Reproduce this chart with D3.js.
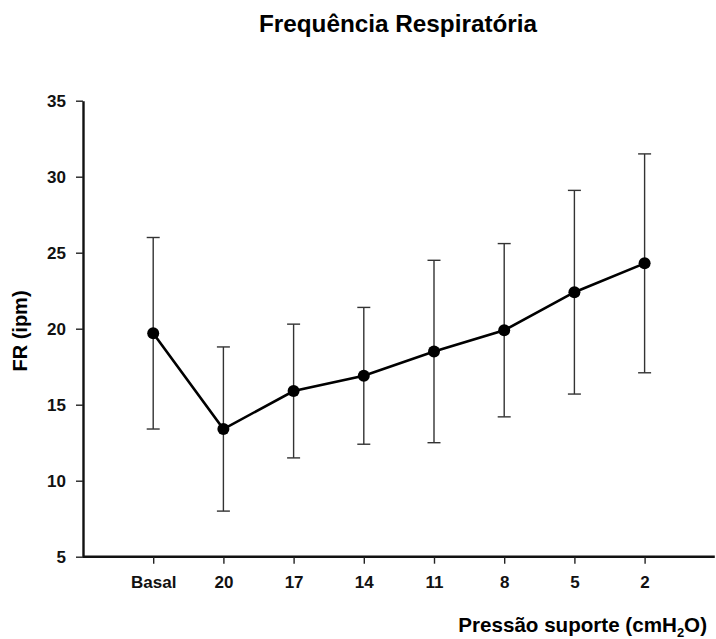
<!DOCTYPE html>
<html>
<head>
<meta charset="utf-8">
<script src="https://cdn.jsdelivr.net/npm/d3@7"></script>
<style>
  html, body { margin: 0; padding: 0; background: #fff; }
  svg { display: block; font-family: "Liberation Sans", Arial, sans-serif; }
</style>
</head>
<body>
<svg id="chart" width="716" height="639"></svg>
<script>
// Pressure-support levels (x categories)
const categories = ["Basal", "20", "17", "14", "11", "8", "5", "2"];
// Mean respiratory rate (breaths per minute)
const means = [19.7, 13.4, 15.9, 16.9, 18.5, 19.9, 22.4, 24.3];
// Standard deviations (error bar half-length)
const sds = [6.3, 5.4, 4.4, 4.5, 6.0, 5.7, 6.7, 7.2];
// Y-axis tick values
const yTicks = [5, 10, 15, 20, 25, 30, 35];

const svg = d3.select("#chart");

const plotLeft = 83, plotRight = 714.8, plotTop = 100.7, plotBottom = 556.7;

const x = d3.scalePoint().domain(categories).range([plotLeft, plotRight]).padding(1);
const y = d3.scaleLinear().domain([5, 35]).range([plotBottom, plotTop]);

// Title
svg.append("text")
  .attr("x", 398).attr("y", 31.8)
  .attr("text-anchor", "middle")
  .style("font-size", "24.3px").style("font-weight", "bold")
  .text("Frequência Respiratória");

// Y axis
const yAxis = svg.append("g")
  .attr("transform", `translate(${plotLeft},0)`)
  .call(d3.axisLeft(y).tickValues(yTicks).tickSize(7).tickPadding(10).tickSizeOuter(0));

// X axis
const xAxis = svg.append("g")
  .attr("transform", `translate(0,${plotBottom})`)
  .call(d3.axisBottom(x).tickSize(7).tickPadding(12.5).tickSizeOuter(0));
xAxis.select(".domain").attr("d", `M${plotLeft},0H${plotRight}`);

[yAxis, xAxis].forEach(g => {
  g.select(".domain").attr("stroke", "#111").attr("stroke-width", 2.4);
  g.selectAll(".tick line").attr("stroke", "#222").attr("stroke-width", 1.4);
  g.selectAll(".tick text")
    .attr("fill", "#111")
    .style("font-size", "17px").style("font-weight", "bold")
    .style("font-family", "\"Liberation Sans\", Arial, sans-serif");
});

// Axis titles
svg.append("text")
  .attr("transform", "translate(26.5,331) rotate(-90)")
  .attr("text-anchor", "middle")
  .style("font-size", "20px").style("font-weight", "bold")
  .text("FR (ipm)");

const xt = svg.append("text")
  .attr("x", 707).attr("y", 632)
  .attr("text-anchor", "end")
  .style("font-size", "20.6px").style("font-weight", "bold");
xt.append("tspan").text("Pressão suporte (cmH");
xt.append("tspan").attr("dy", 5).style("font-size", "13px").text("2");
xt.append("tspan").attr("dy", -5).text("O)");

// Error bars (mean ± SD)
const rows = categories.map((c, i) => ({ c, m: means[i], sd: sds[i] }));
const eb = svg.append("g").attr("stroke", "#333").attr("stroke-width", 1.4).attr("fill", "none");
rows.forEach(d => {
  const cx = x(d.c);
  const y1 = y(d.m + d.sd), y0 = y(d.m - d.sd);
  eb.append("line").attr("x1", cx).attr("x2", cx).attr("y1", y1).attr("y2", y0);
  eb.append("line").attr("x1", cx - 6.5).attr("x2", cx + 6.5).attr("y1", y1).attr("y2", y1);
  eb.append("line").attr("x1", cx - 6.5).attr("x2", cx + 6.5).attr("y1", y0).attr("y2", y0);
});

// Mean line
svg.append("path")
  .datum(rows)
  .attr("fill", "none").attr("stroke", "#000").attr("stroke-width", 2.6)
  .attr("d", d3.line().x(d => x(d.c)).y(d => y(d.m)));

// Markers
svg.append("g").selectAll("circle").data(rows).join("circle")
  .attr("cx", d => x(d.c)).attr("cy", d => y(d.m)).attr("r", 6)
  .attr("fill", "#000");
</script>
</body>
</html>
